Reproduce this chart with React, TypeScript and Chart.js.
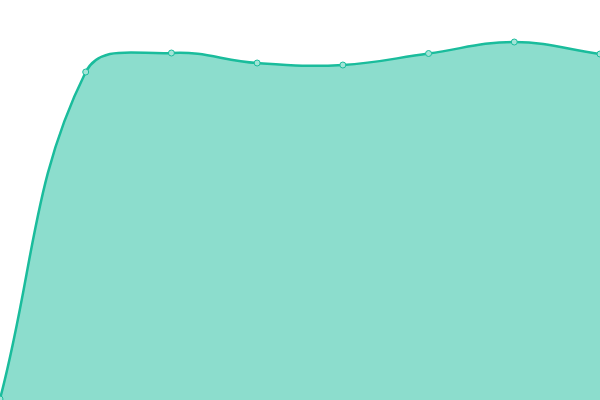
import React, { useEffect, useRef } from "react";
import { Chart, registerables } from "chart.js";

Chart.register(...registerables);

const labels = ["1", "2", "3", "4", "5", "6", "7", "8"];
const values = [1, 328, 347, 337, 335, 346.5, 358, 346];

export default function App() {
  const ref = useRef<HTMLCanvasElement | null>(null);
  useEffect(() => {
    document.body.style.margin = "0";
    const chart = new Chart(ref.current!, {
      type: "line",
      data: {
        labels,
        datasets: [
          {
            data: values,
            fill: true,
            borderColor: "#1abc9c",
            backgroundColor: "rgba(26,188,156,0.5)",
            borderWidth: 2.5,
            tension: 0.4,
            pointRadius: 3,
            pointBorderWidth: 1,
            pointBackgroundColor: "#a3e4d7",
            pointBorderColor: "#1abc9c",
          },
        ],
      },
      options: {
        animation: false,
        responsive: true,
        maintainAspectRatio: false,
        layout: { padding: 0, autoPadding: false },
        plugins: { legend: { display: false }, tooltip: { enabled: false } },
        scales: {
          x: { display: false, offset: false },
          y: { display: false, min: 0, max: 400 },
        },
      },
    });
    return () => chart.destroy();
  }, []);
  return (
    <div style={{ position: "fixed", left: 0, top: 0, width: 600, height: 400 }}>
      <canvas ref={ref} />
    </div>
  );
}
